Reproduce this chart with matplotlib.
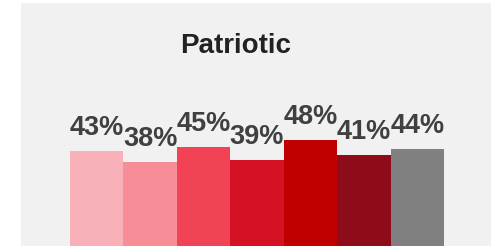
import matplotlib
matplotlib.use("Agg")
import matplotlib.pyplot as plt

plt.rcParams['font.family'] = ['Liberation Sans', 'DejaVu Sans']

# values
values = [43, 38, 45, 39, 48, 41, 44]
labels = ["43%", "38%", "45%", "39%", "48%", "41%", "44%"]
colors = ["#F8B1B8", "#F78D96", "#F24356", "#D71124", "#C00000", "#8E0B19", "#808080"]
title = "Patriotic"

fig = plt.figure(figsize=(4.91, 2.46), dpi=100)
fig.patch.set_facecolor("white")

# gray panel with the bars
ax = fig.add_axes([21 / 491, 0, 470 / 491, 243 / 246])
ax.set_facecolor("#F1F1F1")

x = list(range(len(values)))
ax.bar(x, values, width=1.0, color=colors, linewidth=0)

for xi, v, lab in zip(x, values, labels):
    ax.annotate(lab, (xi, v), xytext=(0, 11.5), textcoords="offset points",
                ha="center", va="baseline", fontsize=19.5, fontweight="bold",
                color="#404040")

ax.set_xlim(-1.417, 7.38)
ax.set_ylim(0, 110)
ax.set_xticks([])
ax.set_yticks([])
for s in ax.spines.values():
    s.set_visible(False)

fig.text(236 / 491, 1 - 53.3 / 246, title, ha="center", va="baseline",
         fontsize=20, fontweight="bold", color="#222222")

fig.savefig("out.png", dpi=100, facecolor=fig.get_facecolor())
